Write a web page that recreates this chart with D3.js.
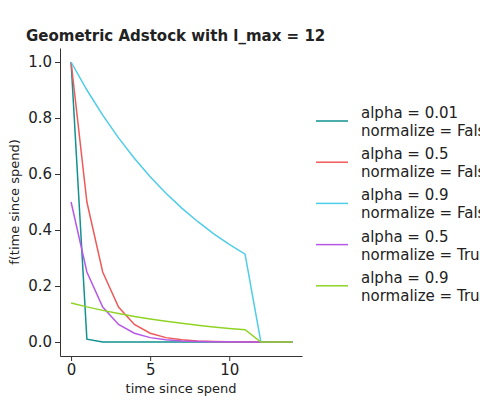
<!DOCTYPE html><html><head><meta charset="utf-8"><script src="https://cdn.jsdelivr.net/npm/d3@7"></script>
<style>body{margin:0;background:#fff}text{font-family:"DejaVu Sans",sans-serif;fill:#222}</style></head><body><svg id="c" width="480" height="400"></svg><script>
const xs=[0,1,2,3,4,5,6,7,8,9,10,11,12,13,14];
const labels=["alpha = 0.01\nnormalize = False","alpha = 0.5\nnormalize = False","alpha = 0.9\nnormalize = False","alpha = 0.5\nnormalize = True","alpha = 0.9\nnormalize = True"];
const colors=["#11918f","#ee5a5a","#4fcde8","#b658e6","#8fd425"];
const s1=[1,0.01,0.0001,0,0,0,0,0,0,0,0,0,0,0,0];
const s2=[1,0.5,0.25,0.125,0.0625,0.03125,0.0156,0.0078,0.0039,0.002,0.001,0.0005,0,0,0];
const s3=[1,0.9,0.81,0.729,0.6561,0.5905,0.5314,0.4783,0.4305,0.3874,0.3487,0.3138,0,0,0];
const s4=[0.5,0.25,0.125,0.0625,0.0313,0.0156,0.0078,0.0039,0.002,0.001,0.0005,0.0002,0,0,0];
const s5=[0.1394,0.1254,0.1129,0.1016,0.0914,0.0823,0.0741,0.0667,0.06,0.054,0.0486,0.0437,0,0,0];
const series=[s1,s2,s3,s4,s5];
const svg=d3.select("#c");
const x=d3.scaleLinear().domain([-0.7,14.6]).range([60,302]);
const y=d3.scaleLinear().domain([-0.05,1.05]).range([356,48]);
const gx=svg.append("g").attr("transform","translate(0,356)").call(d3.axisBottom(x).tickValues([0,5,10]).tickSize(5).tickSizeOuter(0).tickPadding(3));
const gy=svg.append("g").attr("transform","translate(60,0)").call(d3.axisLeft(y).tickValues([0,0.2,0.4,0.6,0.8,1.0]).tickFormat(d3.format(".1f")).tickSize(5).tickSizeOuter(0).tickPadding(3));
[gx,gy].forEach(g=>{g.selectAll("text").style("font-size","15px");g.selectAll("path,line").attr("stroke","#333");});
const line=d3.line().x((d,i)=>x(xs[i])).y(d=>y(d));
series.forEach((s,i)=>svg.append("path").datum(s).attr("d",line).attr("fill","none").attr("stroke",colors[i]).attr("stroke-width",1.5));
svg.append("text").attr("x",26).attr("y",41).style("font-size","15px").style("font-weight","bold").text("Geometric Adstock with l_max = 12");
svg.append("text").attr("x",181).attr("y",393).attr("text-anchor","middle").style("font-size","13px").text("time since spend");
svg.append("text").attr("transform","translate(19,202) rotate(-90)").attr("text-anchor","middle").style("font-size","13px").text("f(time since spend)");
labels.forEach((l,i)=>{const yy=121+i*41.2;
svg.append("line").attr("x1",316).attr("x2",348).attr("y1",yy).attr("y2",yy).attr("stroke",colors[i]).attr("stroke-width",1.5);
const p=l.split("\n");
svg.append("text").attr("x",361).attr("y",yy-3).style("font-size","15px").text(p[0]);
svg.append("text").attr("x",361).attr("y",yy+15).style("font-size","15px").text(p[1]);});
</script></body></html>
